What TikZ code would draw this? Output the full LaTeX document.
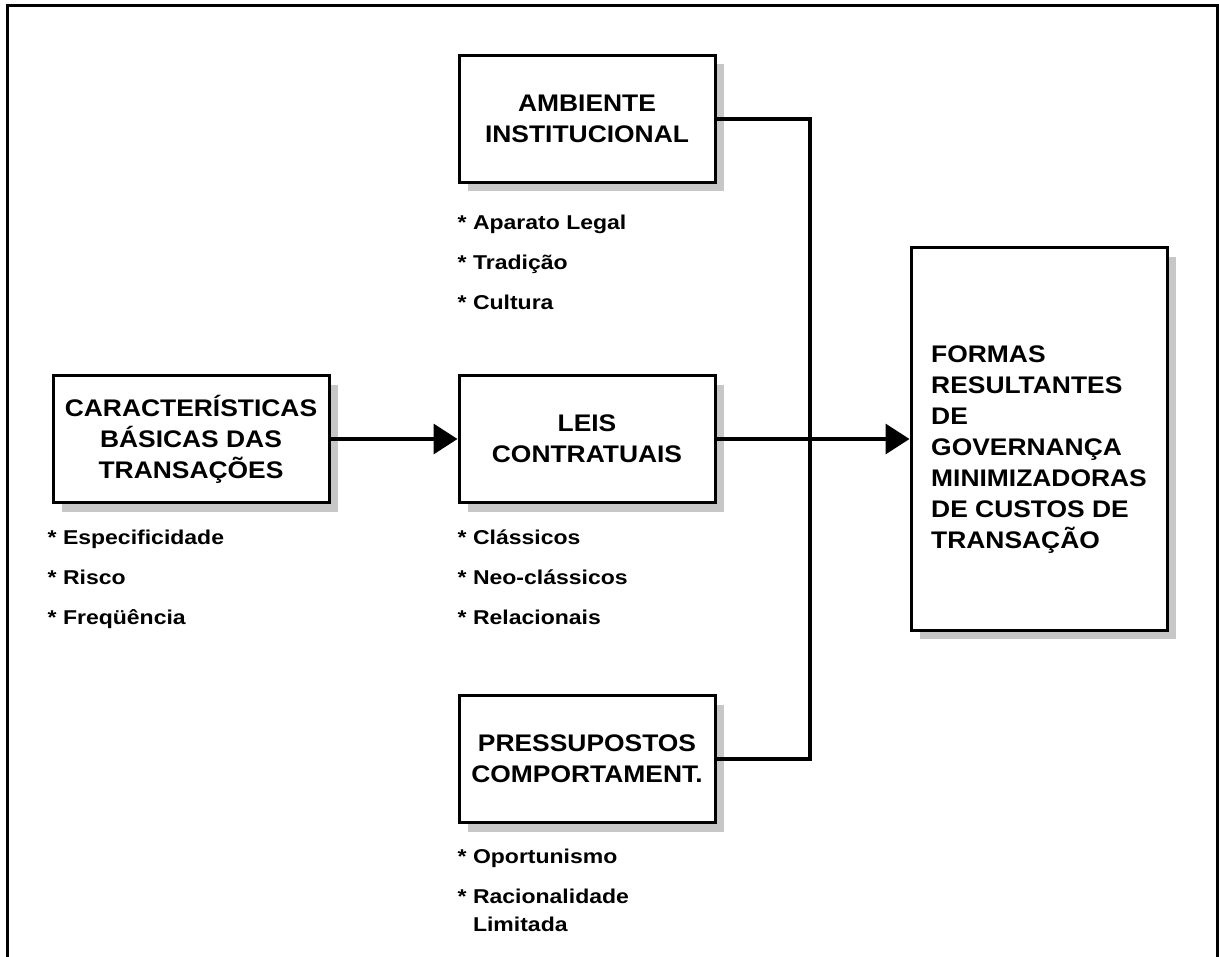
\documentclass[tikz,border=0pt]{standalone}
\usepackage{fontspec}
\setmainfont{Liberation Sans}
\newfontfamily\hdfont[FakeStretch=1.1]{Liberation Sans}
\newfontfamily\itfont[FakeStretch=1.15]{Liberation Sans}
\usepackage {tikz}
\usetikzlibrary {positioning,shadows,arrows.meta}

\begin{document}
\begin{tikzpicture}[x=1pt,y=-1pt,node distance =320pt and 396pt ,on grid ,
    box/.style ={ rectangle , draw , line width=3pt , fill=white ,
    minimum width =256pt , minimum height =127pt , align=center ,
    font=\hdfont\bfseries\fontsize{24}{31}\selectfont ,
    drop shadow={shadow xshift=9pt, shadow yshift=-9pt, fill=black!22, opacity=1}},
    lst/.style={anchor=north west, align=left, inner sep=0pt,
    font=\itfont\bfseries\fontsize{20}{28}\selectfont},
    conn/.style={line width=3.5pt},
    arr/.style={conn, -{Triangle[length=24pt,width=30pt]}}
    ]
    \useasboundingbox (0,0) rectangle (1220,957);
    % frame, open at the bottom
    \draw[line width=3pt] (7,957) -- (7,5.5) -- (1217.5,5.5) -- (1217.5,957);

    \node[box] (L) at (587,439) {LEIS\\CONTRATUAIS};
    \node[box] (A) [above = of L] {AMBIENTE\\INSTITUCIONAL};
    \node[box] (P) [below = of L] {PRESSUPOSTOS\\COMPORTAMENT.};
    \node[box, minimum width =276pt] (C) [left = of L] {CARACTERÍSTICAS\\BÁSICAS DAS\\TRANSAÇÕES};
    \node[box, minimum height =382pt, align=left] (F) [right = 452pt of L]
      {\rule{0pt}{37pt}FORMAS\\RESULTANTES\\DE\\GOVERNANÇA\\MINIMIZADORAS\\DE CUSTOS DE\\TRANSAÇÃO};

    % lists under the boxes
    \node[lst] (Al) at ([yshift=-31pt]A.south west) {* Aparato Legal\\[12pt]* Tradição\\[12pt]* Cultura};
    \node[lst] (Cl) at ([xshift=-4pt,yshift=-26pt]C.south west) {* Especificidade\\[12pt]* Risco\\[12pt]* Freqüência};
    \node[lst] (Ll) at ([yshift=-26pt]L.south west) {* Clássicos\\[12pt]* Neo-clássicos\\[12pt]* Relacionais};
    \node[lst] (Pl) at ([yshift=-25pt]P.south west) {* Oportunismo\\[12pt]* Racionalidade\\\phantom{* }Limitada};

    \coordinate (J) at (810,439);
    \draw[conn] (A.east) -| (J) |- (P.east);
    \draw[arr] (C) -- (L);
    \draw[arr] (L) -- (F);
\end{tikzpicture}
\end{document}
